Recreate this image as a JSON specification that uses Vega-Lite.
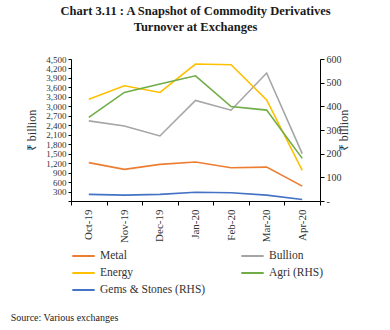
{
  "$schema": "https://vega.github.io/schema/vega-lite/v6.json",
  "padding": {"left": 10, "top": 4, "right": 6, "bottom": 4},
  "background": "white",
  "title": {
    "text": "Source: Various exchanges",
    "orient": "bottom",
    "anchor": "start",
    "frame": "bounds",
    "font": "Liberation Serif",
    "fontSize": 10,
    "fontWeight": "normal",
    "color": "#222",
    "offset": 16,
    "dx": -15
  },
  "config": {
    "font": "Liberation Serif",
    "view": {"stroke": null},
    "axis": {"labelFont": "Liberation Serif", "titleFont": "Liberation Serif", "labelColor": "#333", "titleColor": "#333", "domainColor": "#000", "tickColor": "#000", "grid": false, "titleFontWeight": "normal"},
    "legend": {"labelFont": "Liberation Serif"}
  },
  "data": {
    "values": [
      {"month": "Oct-19", "series": "Metal", "value": 1215},
      {"month": "Nov-19", "series": "Metal", "value": 1002},
      {"month": "Dec-19", "series": "Metal", "value": 1161},
      {"month": "Jan-20", "series": "Metal", "value": 1234},
      {"month": "Feb-20", "series": "Metal", "value": 1056},
      {"month": "Mar-20", "series": "Metal", "value": 1075},
      {"month": "Apr-20", "series": "Metal", "value": 471},
      {"month": "Oct-19", "series": "Bullion", "value": 2538},
      {"month": "Nov-19", "series": "Bullion", "value": 2379},
      {"month": "Dec-19", "series": "Bullion", "value": 2061},
      {"month": "Jan-20", "series": "Bullion", "value": 3186},
      {"month": "Feb-20", "series": "Bullion", "value": 2878},
      {"month": "Mar-20", "series": "Bullion", "value": 4055},
      {"month": "Apr-20", "series": "Bullion", "value": 1501},
      {"month": "Oct-19", "series": "Energy", "value": 3228},
      {"month": "Nov-19", "series": "Energy", "value": 3651},
      {"month": "Dec-19", "series": "Energy", "value": 3441},
      {"month": "Jan-20", "series": "Energy", "value": 4341},
      {"month": "Feb-20", "series": "Energy", "value": 4318},
      {"month": "Mar-20", "series": "Energy", "value": 3205},
      {"month": "Apr-20", "series": "Energy", "value": 970},
      {"month": "Oct-19", "series": "Agri (RHS)", "value": 353},
      {"month": "Nov-19", "series": "Agri (RHS)", "value": 459},
      {"month": "Dec-19", "series": "Agri (RHS)", "value": 494},
      {"month": "Jan-20", "series": "Agri (RHS)", "value": 529},
      {"month": "Feb-20", "series": "Agri (RHS)", "value": 399},
      {"month": "Mar-20", "series": "Agri (RHS)", "value": 384},
      {"month": "Apr-20", "series": "Agri (RHS)", "value": 180},
      {"month": "Oct-19", "series": "Gems & Stones (RHS)", "value": 28},
      {"month": "Nov-19", "series": "Gems & Stones (RHS)", "value": 25},
      {"month": "Dec-19", "series": "Gems & Stones (RHS)", "value": 28},
      {"month": "Jan-20", "series": "Gems & Stones (RHS)", "value": 37},
      {"month": "Feb-20", "series": "Gems & Stones (RHS)", "value": 35},
      {"month": "Mar-20", "series": "Gems & Stones (RHS)", "value": 25},
      {"month": "Apr-20", "series": "Gems & Stones (RHS)", "value": 6}
    ]
  },
  "vconcat": [
    {
      "width": 249,
      "height": 142,
      "title": {
        "text": ["Chart 3.11 : A Snapshot of Commodity Derivatives", "Turnover at Exchanges"],
        "font": "Liberation Serif",
        "fontSize": 12.5,
        "fontWeight": "bold",
        "color": "#1a1a1a",
        "anchor": "middle",
        "frame": "group",
        "lineHeight": 16,
        "offset": 21
      },
      "encoding": {
        "x": {
          "field": "month",
          "type": "ordinal",
          "sort": ["Oct-19", "Nov-19", "Dec-19", "Jan-20", "Feb-20", "Mar-20", "Apr-20"],
          "scale": {"type": "band", "paddingInner": 0, "paddingOuter": 0},
          "axis": {"title": null, "labelAngle": -90, "labelFontSize": 11, "tickBand": "extent", "labelPadding": 4, "tickSize": 4}
        },
        "color": {
          "field": "series",
          "type": "nominal",
          "scale": {
            "domain": ["Metal", "Bullion", "Energy", "Agri (RHS)", "Gems & Stones (RHS)"],
            "range": ["#ED7D31", "#A5A5A5", "#FFC000", "#70AD47", "#4472C4"]
          },
          "legend": {
            "title": null,
            "orient": "bottom",
            "columns": 2,
            "symbolType": "stroke",
            "symbolSize": 500,
            "symbolStrokeWidth": 2,
            "clipHeight": 14,
            "labelFontSize": 11.5,
            "labelColor": "#333",
            "columnPadding": 34,
            "rowPadding": 3,
            "labelLimit": 200,
            "offset": 6
          }
        }
      },
      "layer": [
        {
          "transform": [{"filter": "datum.series === 'Metal' || datum.series === 'Bullion' || datum.series === 'Energy'"}],
          "mark": {"type": "line", "strokeWidth": 1.6},
          "encoding": {
            "y": {
              "field": "value",
              "type": "quantitative",
              "scale": {"domain": [0, 4500], "nice": false},
              "axis": {
                "title": "₹ billion",
                "titleFontSize": 12,
                "values": [0, 300, 600, 900, 1200, 1500, 1800, 2100, 2400, 2700, 3000, 3300, 3600, 3900, 4200, 4500],
                "labelExpr": "datum.value == 0 ? '' : format(datum.value, ',')",
                "labelFontSize": 9,
                "labelOverlap": false,
                "tickSize": 3,
                "titlePadding": 7
              }
            }
          }
        },
        {
          "transform": [{"filter": "datum.series === 'Agri (RHS)' || datum.series === 'Gems & Stones (RHS)'"}],
          "mark": {"type": "line", "strokeWidth": 1.6},
          "encoding": {
            "y": {
              "field": "value",
              "type": "quantitative",
              "scale": {"domain": [0, 600], "nice": false},
              "axis": {
                "orient": "right",
                "title": "₹ billion",
                "titleAngle": 270,
                "titleFontSize": 12,
                "values": [0, 100, 200, 300, 400, 500, 600],
                "labelExpr": "datum.value == 0 ? '-' : format(datum.value, ',')",
                "labelFontSize": 10,
                "tickSize": 4,
                "titlePadding": 9
              }
            }
          }
        }
      ],
      "resolve": {"scale": {"y": "independent"}}
    }
  ]
}
